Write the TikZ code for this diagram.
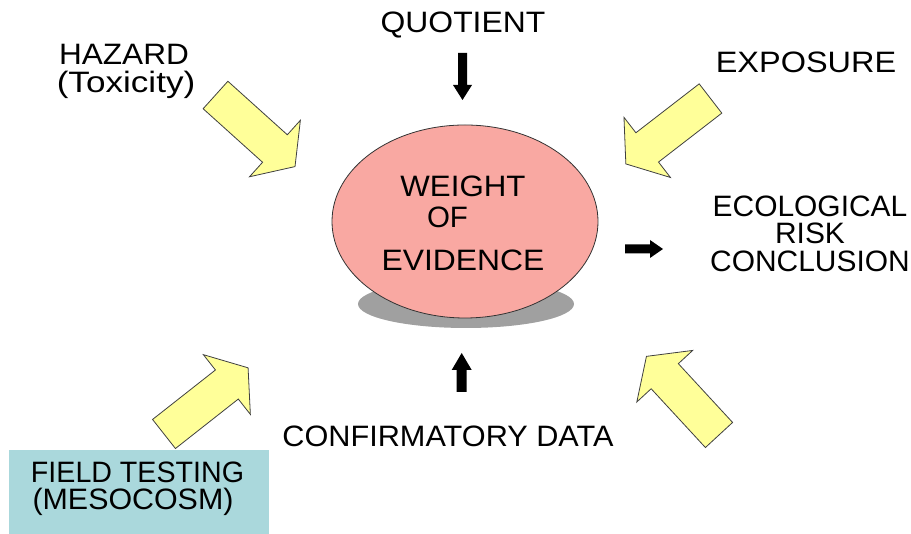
\documentclass[tikz,border=0pt]{standalone}
\usepackage{fontspec}
\setmainfont{Liberation Sans}
\definecolor{arrowyellow}{HTML}{FFFF99}
\definecolor{woepink}{HTML}{F9A8A2}
\definecolor{boxblue}{HTML}{AAD8DC}
\definecolor{shadowgray}{HTML}{A0A0A0}
\tikzset{
  lbl/.style={font=\fontsize{29.5}{27.5}\selectfont, inner sep=0pt, anchor=base, transform shape},
  yarrow/.style={fill=arrowyellow, draw=black!75, line width=0.8pt, line join=miter},
  barrow/.style={fill=black},
  blockarrow/.pic={\draw[yarrow] (0,18.5) -- (80,18.5) -- (80,38) -- (107,0) -- (80,-38) -- (80,-18.5) -- (0,-18.5) -- cycle;}
}
\begin{document}
\begin{tikzpicture}[x=1pt,y=1pt]
\useasboundingbox (0,0) rectangle (911,534);

% shadow and ellipse
\fill[shadowgray] (466,230) ellipse [x radius=108, y radius=24];
\coordinate (woe) at (465,312.5);
\draw[draw=black!80, line width=0.8pt, fill=woepink] (woe) ellipse [x radius=133, y radius=96.5];
\node[lbl, xscale=1.06] (w1) at (463,337) {WEIGHT};
\node[lbl] (w2) at (447.5,306) {OF};
\node[lbl, xscale=1.08] (w3) at (463,263) {EVIDENCE};

% top label and down arrow
\node[lbl, xscale=1.08] (quot) at (463,501) {QUOTIENT};
\begin{scope}[shift={(462.5,481)}, rotate=-90]
  \fill[barrow] (0,4.5) -- (32,4.5) -- (32,9.5) -- (47,0) -- (32,-9.5) -- (32,-4.5) -- (0,-4.5) -- cycle;
\end{scope}

% hazard
\node[lbl, xscale=1.07] (haz) at (124,469) {HAZARD};
\node[lbl, xscale=1.19] (tox) at (126,441) {(Toxicity)};
\pic[rotate=-42] (a1) at (215.5,439) {blockarrow};

% exposure
\node[lbl, xscale=1.10] (expo) at (806,461) {EXPOSURE};
\pic[rotate=-142.3] (a2) at (710.5,435.5) {blockarrow};

% conclusion
\node[lbl, align=center, xscale=1.015, anchor=north] (eco) at (810,338.5) {ECOLOGICAL\\RISK\\CONCLUSION};
\begin{scope}[shift={(625,285)}]
  \fill[barrow] (0,4.5) -- (25,4.5) -- (25,9) -- (38,0) -- (25,-9) -- (25,-4.5) -- (0,-4.5) -- cycle;
\end{scope}

% confirmatory data
\node[lbl, xscale=1.04] (conf) at (448,87) {CONFIRMATORY DATA};
\begin{scope}[shift={(461.7,142)}, rotate=90]
  \fill[barrow] (0,5) -- (22,5) -- (22,10) -- (39,0) -- (22,-10) -- (22,-5) -- (0,-5) -- cycle;
\end{scope}

% lower arrows
\pic[rotate=38.2] (a3) at (164,100) {blockarrow};
\pic[rotate=132.7] (a4) at (719,99) {blockarrow};

% field testing box
\fill[boxblue] (9,0) rectangle (269,84);
\node[lbl, xscale=0.97] (field) at (137.5,51) {FIELD TESTING};
\node[lbl, xscale=1.03] (meso) at (133,24) {(MESOCOSM)};
\end{tikzpicture}
\end{document}
